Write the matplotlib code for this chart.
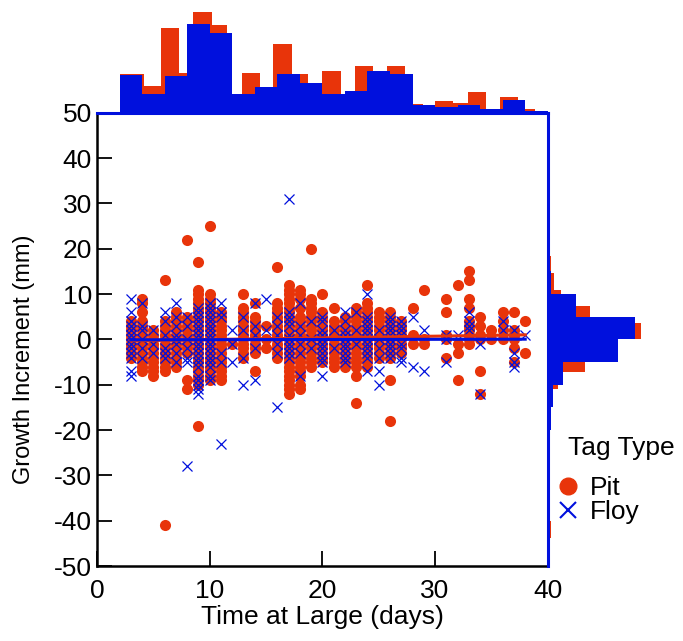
import matplotlib
matplotlib.use("Agg")
import matplotlib.pyplot as plt
from matplotlib.lines import Line2D

# growth increment (mm) per day at large
pit = {
    3: [-4, -3, -2, -1, 0, 1, 2, 3, 4],
    4: [9, 8, 6, 4, 3, 2, 1, 0, -1, -2, -3, -4, -5, -6, -7],
    5: [2, 1, 0, -1, -2, -3, -4, -5, -6, -7, -8],
    6: [13, 4, 3, 2, 1, 0, -1, -2, -3, -4, -5, -6, -7, -41],
    7: [6, 5, 4, 3, 2, 1, 0, -1, -2, -3, -4, -5, -6],
    8: [22, 5, 4, 3, 2, 1, 0, -1, -2, -3, -9, -11],
    9: [17, 11, 10, 9, 8, 7, 6, 5, 4, 3, 2, 1, 0, -1, -2, -3, -4, -5, -6, -7, -8, -9, -10, -19],
    10: [25, 10, 9, 8, 7, 6, 5, 4, 3, 2, 1, 0, -1, -2, -3, -4, -5, -6, -7, -8, -9],
    11: [6, 5, 4, 3, 2, 1, 0, -1, -2, -3, -4, -5, -6, -7, -8, -9],
    12: [-1],
    13: [10, 7, 6, 5, 4, 3, 2, 1, 0, -1, -2, -3, -4],
    14: [8, 5, 4, 3, 2, 1, 0, -1, -2, -3, -7],
    15: [3, 0, -2],
    16: [16, 8, 7, 6, 5, 4, 3, 2, 1, 0, -1, -2, -3, -4],
    17: [12, 11, 10, 9, 8, 7, 6, 5, 4, 3, 2, 1, 0, -1, -2, -3, -4, -5, -6, -7, -8, -9, -10, -11, -12],
    18: [11, 10, 9, 7, 5, 4, 3, 2, 1, 0, -1, -2, -3, -4, -5, -6, -7, -8, -10, -11],
    19: [20, 9, 8, 7, 6, 5, 4, 3, 2, 1, 0, -1, -2, -3, -4, -5, -6],
    20: [10, 6, 5, 4, 3, 2, 1, 0, -1, -2, -3, -4, -5],
    21: [7, 4, 3, 2, 1, 0, -1, -2, -3, -4, -5, -6],
    22: [5, 4, 3, 2, 1, 0, -1, -2, -3, -4, -5, -6],
    23: [7, 6, 5, 4, 3, 2, 1, 0, -1, -2, -3, -4, -5, -6, -8, -14],
    24: [12, 8, 7, 6, 5, 4, 3, 2, 1, 0, -1, -2, -3, -4, -5, -6],
    25: [6, 5, 4, 3, 2, 1, 0, -1, -2, -3, -4],
    26: [6, 5, 4, 3, 2, 1, 0, -1, -2, -3, -4, -9, -18],
    27: [4, 3, 2, 1, 0, -1, -2, -3],
    28: [7, 1, -1],
    29: [11, 0, -1],
    31: [9, 6, 1, 0, -4],
    32: [12, -1, -3, -9],
    33: [15, 13, 9, 7, 4, 3, 2, 1, 0, -1],
    34: [5, 3, 1, 0, -7, -12],
    35: [2, 0],
    36: [6, 4, 2, 0],
    37: [6, 2, 1, 0, -2, -5],
    38: [4, -3],
}

floy = {
    3: [9, 6, 4, 3, 2, 1, 0, -1, -2, -3, -4, -7, -8],
    4: [8, 3, 2, 0, -2, -4],
    5: [2, -1, -3],
    6: [6, 4, 1, -2, -3, -4],
    7: [8, 5, 3, 1, 0, -1, -3, -5],
    8: [5, 3, 0, -2, -4, -5, -28],
    9: [7, 6, 5, 4, 3, 2, 1, 0, -1, -2, -3, -4, -5, -6, -8, -9, -10, -11, -12],
    10: [8, 7, 6, 5, 4, 3, 2, 1, 0, -1, -2, -3, -4, -5, -6, -8, -9],
    11: [8, 6, 5, -3, -5, -23],
    12: [2, -1, -5],
    13: [5, 2, -4, -10],
    14: [8, 3, 1, -2, -9],
    15: [9, 2],
    16: [5, 3, 1, -1, -3, -15],
    17: [31, 6, 5, 4, 3, 1, 0, -1, -2, -3, -4],
    18: [8, 3, 1, -1, -3, -8],
    19: [4, 0, -2],
    20: [5, 4, 2, 1, 0, -1, -2, -3, -4, -5, -8],
    21: [2, -2],
    22: [6, 4, 2, 1, 0, -1, -2, -3, -4, -5],
    23: [6, 2, -1],
    24: [10, 5, 4, 3, 2, 1, 0, -1, -2, -3, -4, -7],
    25: [2, 0, -2, -4, -7, -10],
    26: [5, 4, 3, 2, 1, 0, -1, -2, -3, -4],
    27: [4, 3, 2, 1, -1, -2, -4, -5],
    28: [5, -6],
    29: [2, -7],
    31: [1, 0, -5],
    32: [1],
    33: [6, 4, 3, 2],
    34: [-1, -12],
    36: [4, 2],
    37: [2, -3, -5, -6],
    38: [1],
}

# linear fits (intercept, slope)
pit_fit = (-0.4, 0.037)
floy_fit = (-0.1, 0.004)

# marginal histograms (relative heights)
pit_top_edges = [2.0, 4.17, 5.65, 7.3, 8.54, 10.17, 11.56, 12.83, 14.46, 15.6, 17.27, 18.74, 20.0,
                 21.64, 22.88, 24.5, 25.75, 27.3, 28.9, 30.0, 31.6, 32.9, 34.5, 35.74, 37.37, 38.9]
pit_top_counts = [39, 27, 85, 40, 101, 88, 15, 40, 22, 69, 39, 20, 42, 15, 47, 35, 47, 9, 6, 12,
                  10, 21, 3, 16, 4]
floy_top_edges = [2, 4, 6, 8, 10, 12, 14, 16, 18, 20, 22, 24, 26, 28, 30, 32, 34, 36, 38, 40]
floy_top_counts = [38, 18.7, 37, 89, 80.3, 18.7, 26, 38.7, 29.7, 19, 22.3, 42.3, 38.7, 8, 5.7, 8,
                   4, 13, 2.3]

pit_right_edges = [-43.8, -40.1, -36.5, -32.8, -29.2, -25.5, -21.9, -18.2, -14.6, -10.9, -7.3,
                   -3.6, 0.0, 3.7, 7.3, 11.0, 14.6, 18.3, 22.0, 25.6]
pit_right_counts = [3, 0, 0, 0, 0, 0, 2.5, 3, 4, 10, 37.3, 60, 93.3, 42.3, 12.7, 6, 3, 1.5, 1.5]
floy_right_edges = [-30, -25, -20, -15, -10, -5, 0, 5, 10, 15, 20, 25, 30, 35]
floy_right_counts = [1.5, 1.5, 2.7, 5, 15, 70, 86.7, 27.7, 3.3, 1.5, 1, 1, 2.5]

RED = '#E8340A'
BLUE = '#0010DD'

plt.rcParams['font.family'] = ['Liberation Sans', 'DejaVu Sans']
plt.rcParams['font.size'] = 19
plt.rcParams['axes.unicode_minus'] = False

fig = plt.figure(figsize=(6.83, 6.41), dpi=100)
ax = fig.add_axes([0.142, 0.117, 0.660, 0.707])
ax_top = fig.add_axes([0.142, 0.8237, 0.660, 0.1763])
ax_right = fig.add_axes([0.8023, 0.117, 0.1977, 0.707])

pit_x = [d for d, v in pit.items() for _ in v]
pit_y = [y for v in pit.values() for y in v]
floy_x = [d for d, v in floy.items() for _ in v]
floy_y = [y for v in floy.values() for y in v]

ax.scatter(pit_x, pit_y, s=64, c=RED, marker='o', linewidths=0, zorder=2)
ax.scatter(floy_x, floy_y, s=52, c=BLUE, marker='x', linewidths=0.9, zorder=3)

for xs, fit, col in [(pit_x, pit_fit, RED), (floy_x, floy_fit, BLUE)]:
    x0, x1 = min(xs), max(xs)
    ax.plot([x0, x1], [fit[0] + fit[1] * x0, fit[0] + fit[1] * x1], color=col, lw=2.2, zorder=4)

ax.set_xlim(0, 40)
ax.set_ylim(-50, 50)
ax.set_xticks([0, 10, 20, 30, 40])
ax.set_yticks(range(-50, 51, 10))
ax.tick_params(direction='in', length=11, width=1.3)
ax.tick_params(axis='x', pad=9)
ax.tick_params(axis='y', pad=3.5)
for s in ax.spines.values():
    s.set_linewidth(1.8)
ax.set_xlabel('Time at Large (days)', labelpad=2)
ax.set_ylabel('Growth Increment (mm)', fontsize=17)
ax.yaxis.set_label_coords(-0.137, 0.457)

# top marginal histogram
ax_top.stairs(pit_top_counts, pit_top_edges, fill=True, color=RED)
ax_top.stairs(floy_top_counts, floy_top_edges, fill=True, color=BLUE)
ax_top.axhline(0, color=BLUE, lw=2.2, clip_on=False)
ax_top.set_xlim(0, 40)
ax_top.set_ylim(0, 113)
ax_top.axis('off')

# right marginal histogram
ax_right.stairs(pit_right_counts, pit_right_edges, fill=True, color=RED, orientation='horizontal')
ax_right.stairs(floy_right_counts, floy_right_edges, fill=True, color=BLUE, orientation='horizontal')
ax_right.axvline(0, color=BLUE, lw=2.2, clip_on=False)
ax_right.set_ylim(-50, 50)
ax_right.set_xlim(0, 135)
ax_right.axis('off')

# legend
fig.text(568 / 683, 1 - 455 / 641, 'Tag Type', ha='left', va='baseline')
h_pit = Line2D([], [], ls='none', marker='o', color=RED, markersize=12)
h_floy = Line2D([], [], ls='none', marker='x', color=BLUE, markersize=11, mew=1.5)
fig.legend([h_pit, h_floy], ['Pit', 'Floy'], loc='upper left', bbox_to_anchor=(557 / 683, 1 - 476 / 641),
           frameon=False, handlelength=0.8, handletextpad=0.45, labelspacing=0.0,
           borderpad=0, borderaxespad=0)

fig.savefig('out.png', dpi=100)
